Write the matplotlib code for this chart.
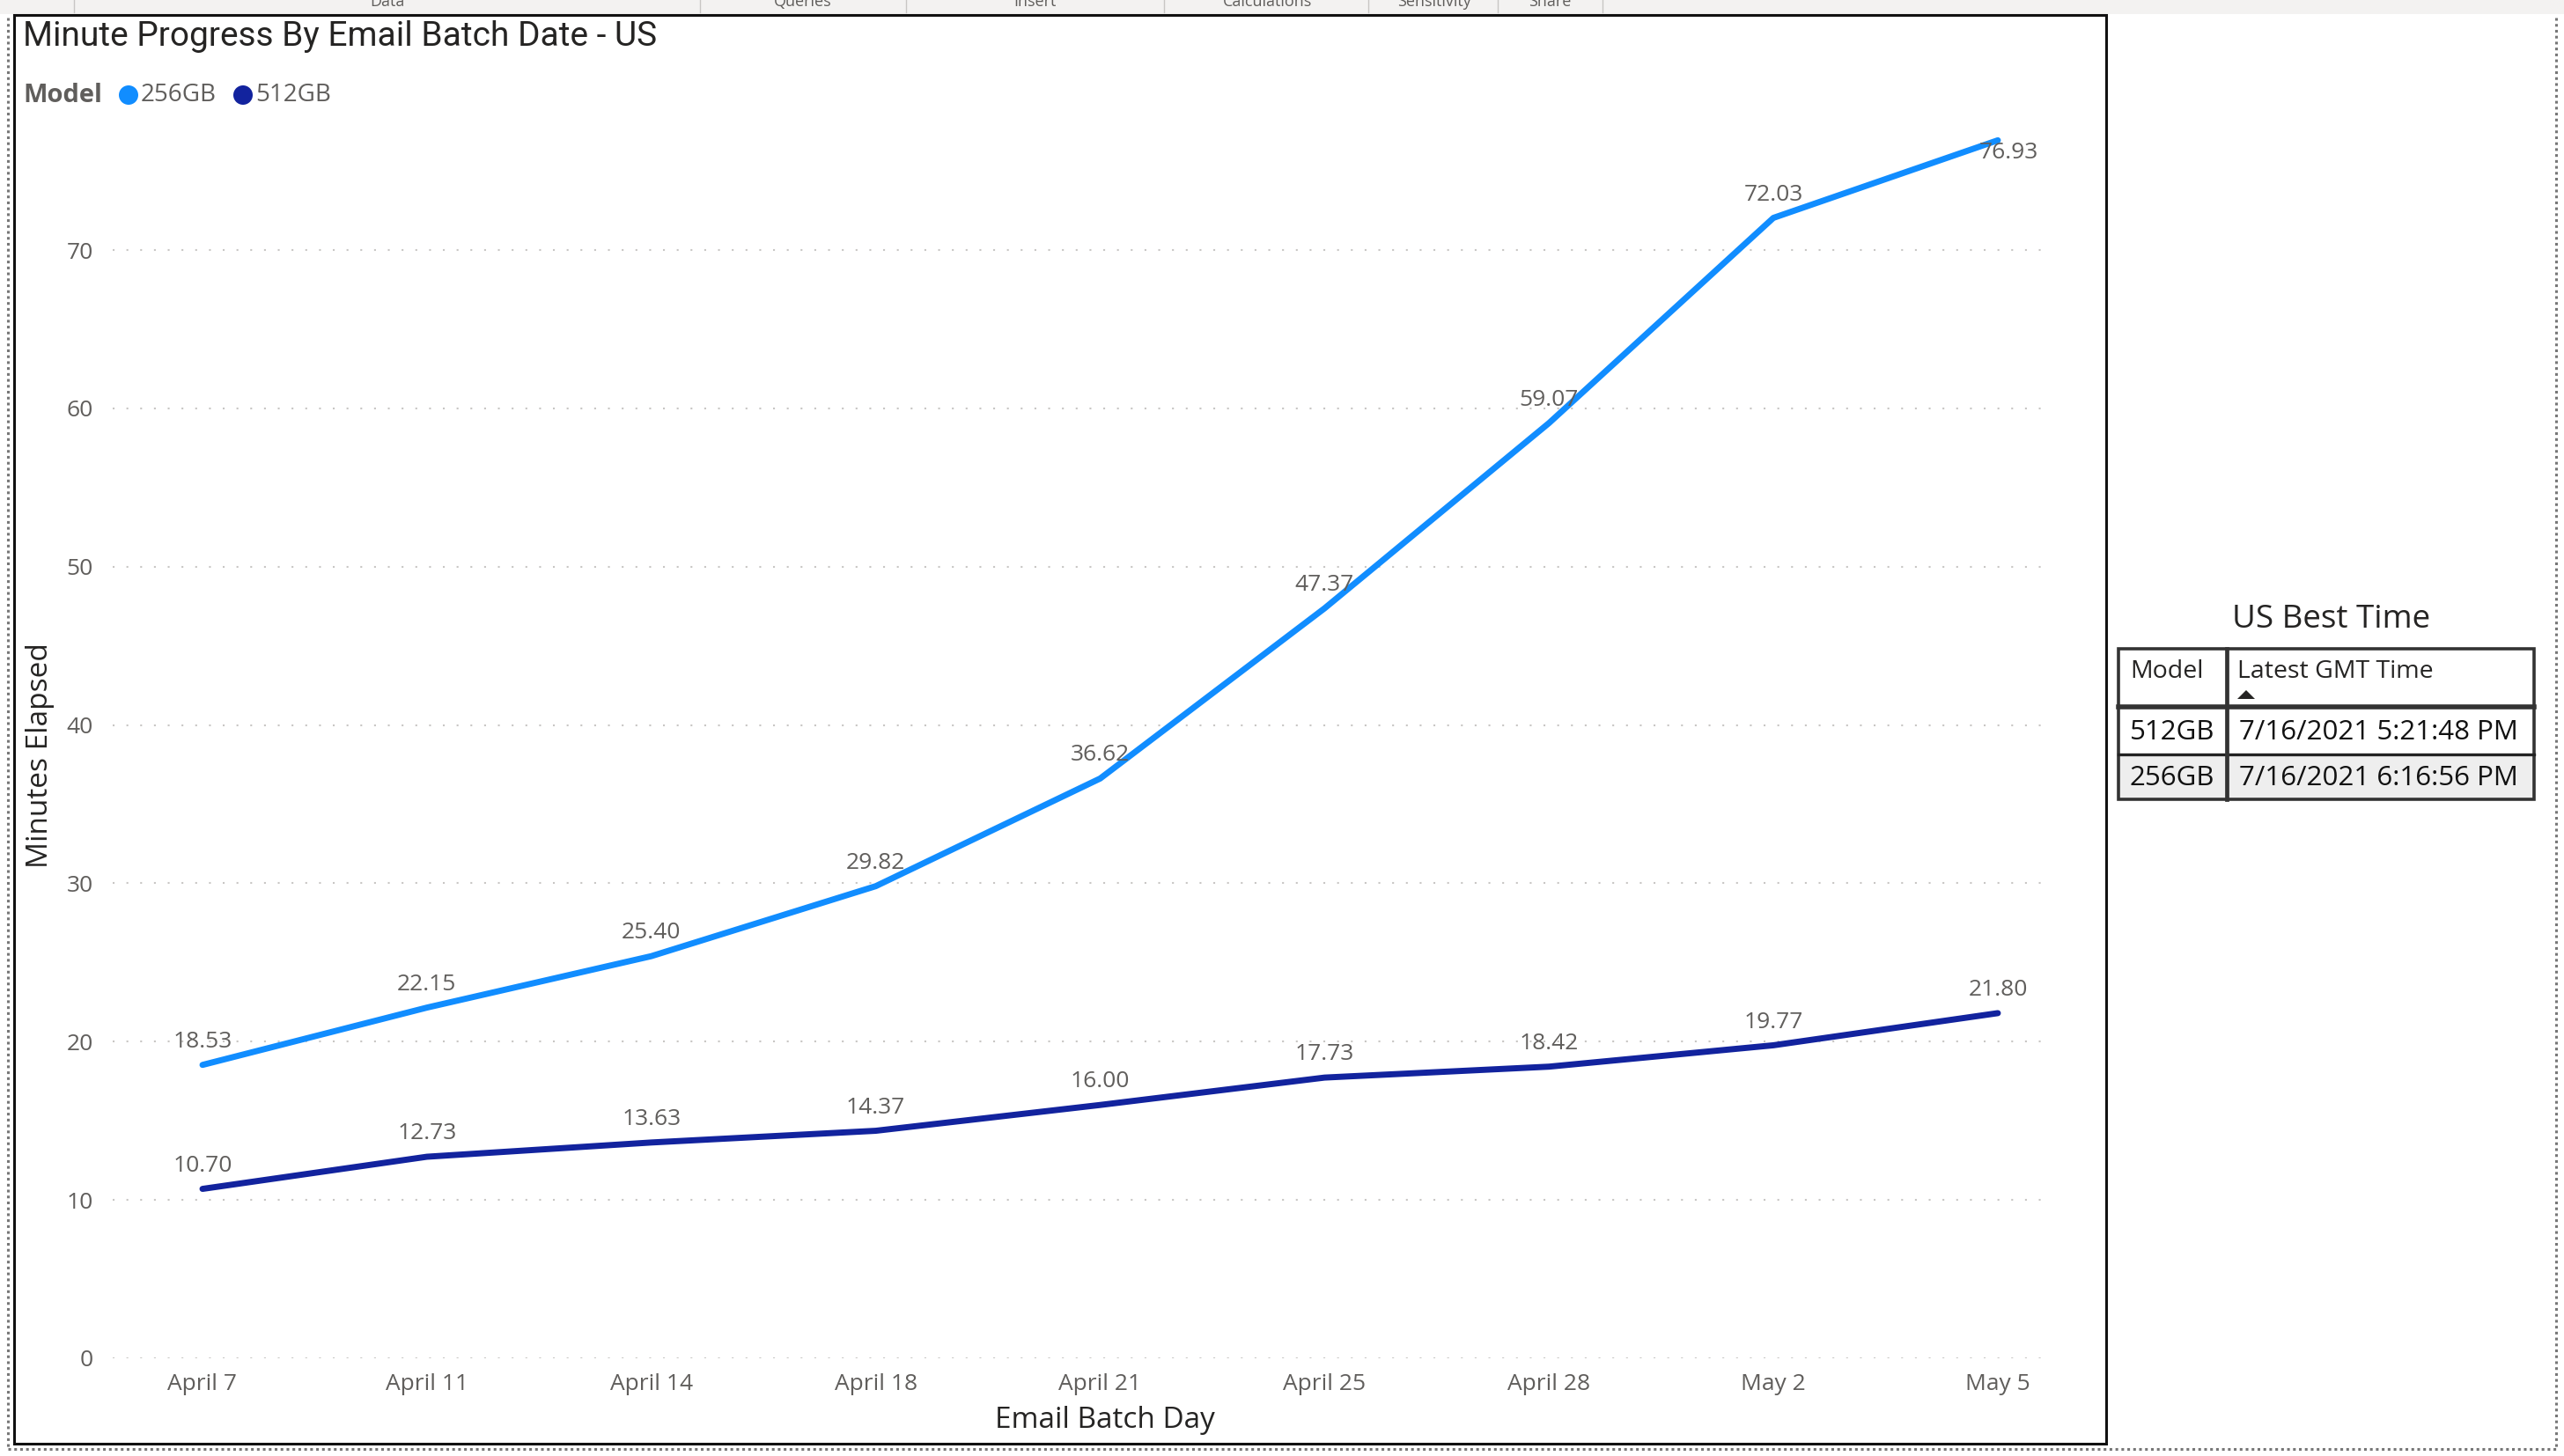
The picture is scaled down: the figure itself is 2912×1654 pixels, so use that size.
import matplotlib
matplotlib.use("Agg")
import matplotlib.pyplot as plt
from matplotlib.patches import Rectangle, Circle, Polygon

# data
days = ['April 7', 'April 11', 'April 14', 'April 18', 'April 21',
        'April 25', 'April 28', 'May 2', 'May 5']
minutes_256 = [18.53, 22.15, 25.40, 29.82, 36.62, 47.37, 59.07, 72.03, 76.93]
minutes_512 = [10.70, 12.73, 13.63, 14.37, 16.00, 17.73, 18.42, 19.77, 21.80]
series_names = ['256GB', '512GB']
series_colors = ['#118DFF', '#12239E']
y_ticks = [0, 10, 20, 30, 40, 50, 60, 70]

table_title = 'US Best Time'
table_headers = ['Model', 'Latest GMT Time']
table_models = ['512GB', '256GB']
table_times = ['7/16/2021 5:21:48 PM', '7/16/2021 6:16:56 PM']

toolbar_labels = ['Data', 'Queries', 'Insert', 'Calculations', 'Sensitivity', 'Share']
toolbar_x = [440, 912, 1175, 1439, 1629, 1760]
toolbar_seps = [84, 795, 1029, 1322, 1554, 1701, 1820]

W, H = 2912, 1654
plt.rcParams['font.family'] = ['Open Sans', 'DejaVu Sans']
fig = plt.figure(figsize=(W / 100, H / 100), dpi=100)
fig.patch.set_facecolor('white')

# overlay in pixel coordinates for the report chrome
ov = fig.add_axes([0, 0, 1, 1], zorder=0)
ov.set_xlim(0, W)
ov.set_ylim(H, 0)
ov.axis('off')

ov.add_patch(Rectangle((0, 0), W, 16, facecolor='#f3f2f1', edgecolor='none'))
for lx, lab in zip(toolbar_x, toolbar_labels):
    ov.text(lx, 2, lab, ha='center', va='center', fontsize=13, color='#605e5c')
for sx in toolbar_seps:
    ov.plot([sx, sx], [0, 14], color='#c8c6c4', lw=1)

# dotted page borders
ov.plot([9, 9], [20, 1646], color='#777777', lw=2.2, ls=(0, (1, 1.2)))
ov.plot([2903, 2903], [20, 1646], color='#777777', lw=2.2, ls=(0, (1, 1.2)))
ov.plot([9, 2903], [1646, 1646], color='#777777', lw=2.2, ls=(0, (1, 1.2)))

# chart frame
ov.add_patch(Rectangle((16, 17), 2392 - 16, 1640 - 17, facecolor='white',
                       edgecolor='#111111', lw=2.2))

ov.text(26, 41, 'Minute Progress By Email Batch Date - US', ha='left', va='center',
        fontsize=28, color='#252423', family=['Roboto', 'DejaVu Sans'])

# legend
ov.text(26, 108, 'Model', ha='left', va='center', fontsize=21, fontweight='bold',
        color='#605e5c')
leg_x = [146, 276]
for lx, name, col in zip(leg_x, series_names, series_colors):
    ov.add_patch(Circle((lx, 108), 11, facecolor=col, edgecolor='none'))
    ov.text(lx + 14, 108, name, ha='left', va='center', fontsize=20, color='#605e5c')

ov.text(46, 858, 'Minutes Elapsed', rotation=90, ha='center', va='center',
        fontsize=24, color='#252423')
ov.text(1255, 1614, 'Email Batch Day', ha='center', va='center',
        fontsize=24, color='#252423')

# table
ov.text(2648, 704, table_title, ha='center', va='center', fontsize=26.5, color='#252423')
tl, tr, cdiv = 2406, 2878, 2529
row_y = [737, 803, 857, 908]
ov.add_patch(Rectangle((tl, row_y[2]), tr - tl, row_y[3] - row_y[2],
                       facecolor='#eeeeee', edgecolor='none'))
ov.add_patch(Rectangle((tl, row_y[0]), tr - tl, row_y[3] - row_y[0],
                       facecolor='none', edgecolor='#333333', lw=2.6))
ov.plot([tl, tr], [row_y[1], row_y[1]], color='#333333', lw=4)
ov.plot([tl, tr], [row_y[2], row_y[2]], color='#222222', lw=2.4)
ov.plot([cdiv, cdiv], [row_y[0], row_y[3]], color='#333333', lw=3.4)
ov.text(tl + 13, 763, table_headers[0], ha='left', va='center', fontsize=20.5, color='#252423')
ov.text(cdiv + 12, 763, table_headers[1], ha='left', va='center', fontsize=20.5, color='#252423')
ov.add_patch(Polygon([[cdiv + 12, 794], [cdiv + 32, 794], [cdiv + 22, 784]],
                     closed=True, facecolor='#252423', edgecolor='none'))
for i, (m, t) in enumerate(zip(table_models, table_times)):
    yc = (row_y[i + 1] + row_y[i + 2]) / 2 + 2
    ov.text(tl + 13, yc, m, ha='left', va='center', fontsize=22.5, color='#111111')
    ov.text(cdiv + 14, yc, t, ha='left', va='center', fontsize=22.5, color='#111111')

# main plot
ax_l, ax_r, ax_b, ax_t = 128, 2321, 1543, 140
ax = fig.add_axes([ax_l / W, 1 - ax_b / H, (ax_r - ax_l) / W, (ax_b - ax_t) / H], zorder=2)
ax.patch.set_alpha(0)
x = list(range(len(days)))
step = (2269 - 230) / 8
ax.set_xlim(-(230 - ax_l) / step, 8 + (ax_r - 2269) / step)
ppu = (1543 - 284) / 70
ax.set_ylim(0, (ax_b - ax_t) / ppu)

for vals, col in zip([minutes_256, minutes_512], series_colors):
    ax.plot(x, vals, color=col, lw=5, solid_capstyle='round', solid_joinstyle='round',
            clip_on=False)
    for xi, v in zip(x, vals):
        if v > ax.get_ylim()[1] - 3:
            ax.annotate(f'{v:.2f}', (xi, v), xytext=(9, -10), textcoords='offset points',
                        ha='center', va='center', fontsize=19, color='#605e5c')
        else:
            ax.annotate(f'{v:.2f}', (xi, v), xytext=(0, 19), textcoords='offset points',
                        ha='center', va='center', fontsize=19, color='#605e5c')

ax.set_yticks(y_ticks)
ax.set_xticks(x)
ax.set_xticklabels(days)
ax.tick_params(axis='both', length=0, labelsize=19, labelcolor='#605e5c')
ax.tick_params(axis='y', pad=16)
ax.tick_params(axis='x', pad=12)
ax.grid(axis='y', color='#c8c6c4', lw=1.5, ls=(0, (1, 6.5)))
ax.set_axisbelow(True)
for sp in ax.spines.values():
    sp.set_visible(False)

fig.savefig('out.png', dpi=100)
